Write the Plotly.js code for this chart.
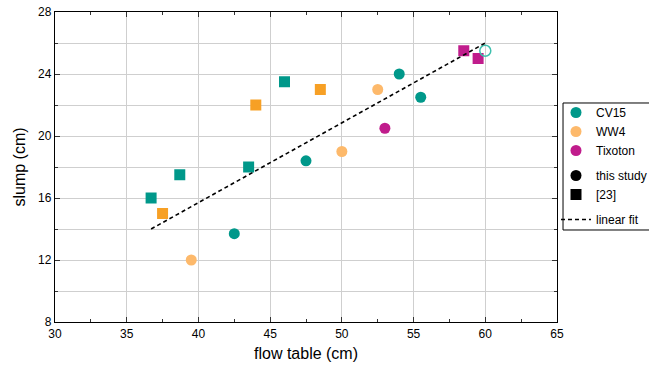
<!DOCTYPE html>
<html>
<head>
<meta charset="utf-8">
<script src="https://cdn.plot.ly/plotly-3.0.1.min.js"></script>
<style>html,body{margin:0;padding:0;background:#fff;}#chart{width:649px;height:371px;}</style>
</head>
<body>
<div id="chart"></div>
<script>
// CV15
const cv15StudyX = [42.5, 47.5, 54.0, 55.5];
const cv15StudyY = [13.7, 18.4, 24.0, 22.5];
const cv15OpenX = [60.0];
const cv15OpenY = [25.5];
const cv15RefX = [36.7, 38.7, 43.5, 46.0];
const cv15RefY = [16.0, 17.5, 18.0, 23.5];
// WW4
const ww4StudyX = [39.5, 50.0, 52.5];
const ww4StudyY = [12.0, 19.0, 23.0];
const ww4RefX = [37.5, 44.0, 48.5];
const ww4RefY = [15.0, 22.0, 23.0];
// Tixoton
const tixStudyX = [53.0];
const tixStudyY = [20.5];
const tixRefX = [58.5, 59.5];
const tixRefY = [25.5, 25.0];
// linear fit
const fitX = [36.7, 60.0];
const fitY = [14.0, 26.0];

const cTeal = '#00988A', cOrangeSq = '#F7A025', cOrangeCi = '#FDB96B', cMag = '#C01C8C';
const ms = 11;

function pts(x, y, color, symbol) {
  return {x: x, y: y, type: 'scatter', mode: 'markers', showlegend: false,
    marker: {color: color, symbol: symbol, size: ms, line: {width: 0}}, hoverinfo: 'skip'};
}
function leg(name, color, symbol, group) {
  return {x: [null], y: [null], type: 'scatter', mode: 'markers', name: name, legendgroup: group,
    marker: {color: color, symbol: symbol, size: ms}};
}

const data = [
  pts(cv15RefX, cv15RefY, cTeal, 'square'),
  pts(ww4RefX, ww4RefY, cOrangeSq, 'square'),
  pts(tixRefX, tixRefY, cMag, 'square'),
  pts(cv15StudyX, cv15StudyY, cTeal, 'circle'),
  pts(ww4StudyX, ww4StudyY, cOrangeCi, 'circle'),
  pts(tixStudyX, tixStudyY, cMag, 'circle'),
  {x: cv15OpenX, y: cv15OpenY, type: 'scatter', mode: 'markers', showlegend: false,
    marker: {color: '#3EC0AE', symbol: 'circle-open', size: ms, line: {color: '#3EC0AE', width: 1.5}}},
  {x: fitX, y: fitY, type: 'scatter', mode: 'lines', showlegend: false,
    line: {color: '#000', width: 1.6, dash: '4px,3px'}},
  leg('CV15', cTeal, 'circle', 'g1'),
  leg('WW4', cOrangeCi, 'circle', 'g1'),
  leg('Tixoton', cMag, 'circle', 'g1'),
  leg('this study', '#000', 'circle', 'g2'),
  leg('[23]', '#000', 'square', 'g2'),
  {x: [null], y: [null], type: 'scatter', mode: 'lines', name: 'linear fit', legendgroup: 'g3',
    line: {color: '#000', width: 1.6, dash: '4px,3px'}}
];

const axisCommon = {
  showline: true, linecolor: '#000', linewidth: 1.2, mirror: 'ticks',
  ticks: 'inside', ticklen: 5, tickcolor: '#333', tickwidth: 1,
  showgrid: true, gridcolor: '#cfcfcf', gridwidth: 1, zeroline: false,
  tickfont: {family: 'Liberation Sans, Arial, sans-serif', size: 12, color: '#000'}
};

const layout = {
  width: 649, height: 371,
  margin: {l: 55, r: 92, t: 12, b: 49, autoexpand: false},
  paper_bgcolor: '#fff', plot_bgcolor: '#fff',
  font: {family: 'Liberation Sans, Arial, sans-serif', color: '#000'},
  xaxis: Object.assign({}, axisCommon, {
    range: [30, 65], tick0: 30, dtick: 5,
    minor: {dtick: 2.5, ticks: 'inside', ticklen: 3, tickcolor: '#333', showgrid: false},
    title: {text: 'flow table (cm)', font: {size: 16}, standoff: 8}
  }),
  yaxis: Object.assign({}, axisCommon, {
    range: [8, 28], tick0: 8, dtick: 4,
    minor: {dtick: 2, ticks: 'inside', ticklen: 3, tickcolor: '#333', showgrid: true, gridcolor: '#cfcfcf'},
    title: {text: 'slump (cm)', font: {size: 16}, standoff: 8}
  }),
  shapes: [{type: 'rect', xref: 'paper', yref: 'paper', x0: 1.012, x1: 1.3, y0: 0.2968, y1: 0.7065,
    line: {color: '#000', width: 1}, fillcolor: '#fff', layer: 'below'}],
  showlegend: true,
  legend: {
    x: 0.998, xanchor: 'left', y: 0.7226, yanchor: 'top',
    borderwidth: 0, bgcolor: 'rgba(0,0,0,0)',
    font: {size: 12, color: '#000'},
    traceorder: 'grouped', tracegroupgap: 6, itemwidth: 30
  }
};

Plotly.newPlot('chart', data, layout, {displayModeBar: false, staticPlot: true});
</script>
</body>
</html>
